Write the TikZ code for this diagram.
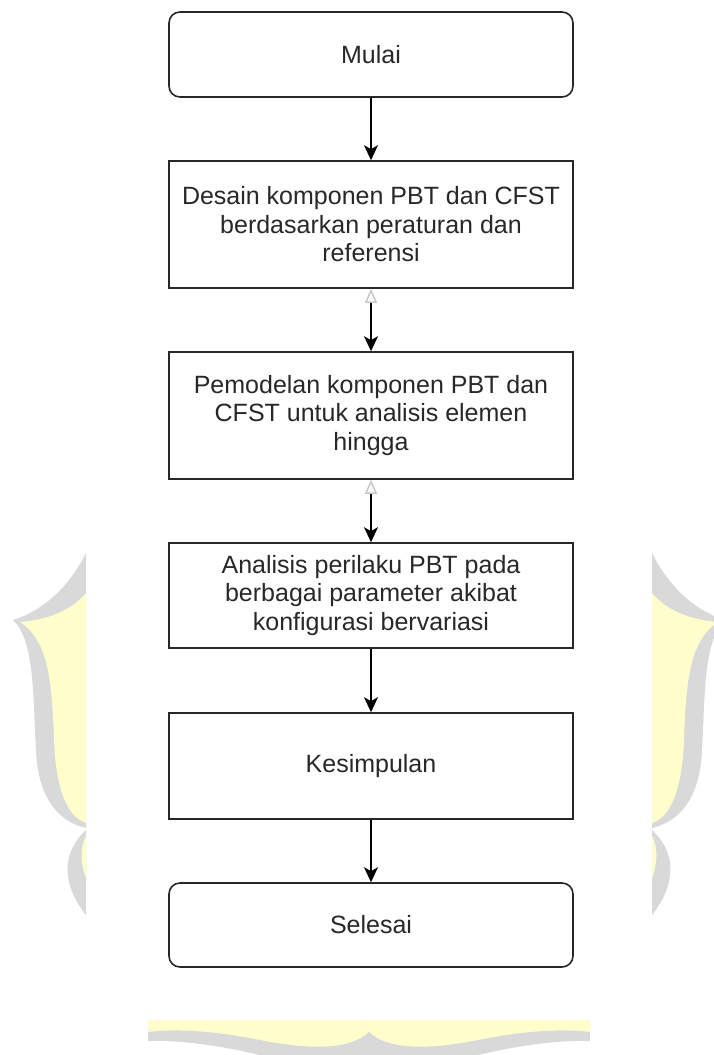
\documentclass[tikz,border=0pt]{standalone}
\usepackage{fontspec}
\setmainfont{Liberation Sans}
\usetikzlibrary{arrows.meta}
\definecolor{wmgray}{RGB}{217,217,217}
\definecolor{wmyellow}{RGB}{255,253,204}
\definecolor{ink}{RGB}{40,40,40}
\tikzset{
  procbox/.style={draw=ink, line width=1.6pt, fill=white, minimum width=404pt, align=center, text=ink, font=\fontsize{25}{28.5}\selectfont, inner sep=0pt},
  termbox/.style={procbox, rounded corners=11pt},
  flow/.style={draw=black, line width=1.5pt, -{Stealth[length=15pt,width=14pt,inset=4pt]}},
  ghostflow/.style={draw=black, line width=1.5pt, {Triangle[open,length=14pt,width=12pt,color=black!22]}-{Stealth[length=15pt,width=14pt,inset=4pt]}},
}
\begin{document}
\begin{tikzpicture}[x=1pt,y=-1pt]
\useasboundingbox (0,0) rectangle (714,1055);
\fill[white] (0,0) rectangle (714,1055);
% watermark, left side and mirrored right side
\foreach \s in {1,-1}{
\begin{scope}[xshift={(1-\s)*369pt}, xscale=\s]
\fill[wmgray] (86,553) .. controls (70,585) and (45,610) .. (13,620)
  .. controls (35,640) and (33,700) .. (36,750)
  .. controls (38,800) and (60,822) .. (86,828) -- cycle;
\fill[wmyellow] (86,593) .. controls (70,612) and (45,620) .. (20,622)
  .. controls (48,640) and (52,680) .. (54,740)
  .. controls (56,795) and (70,818) .. (86,823) -- cycle;
\fill[wmgray] (86,830) .. controls (70,845) and (66,862) .. (68,875)
  .. controls (69,890) and (78,905) .. (86,915) -- cycle;
\fill[wmyellow] (86,836) .. controls (80,848) and (80,862) .. (86,878) -- cycle;
\end{scope}
}
% watermark, bottom
\fill[wmyellow] (148,1020) -- (590,1020) -- (590,1032)
  .. controls (558,1028) and (518,1032) .. (478,1040)
  .. controls (428,1050) and (388,1050) .. (369,1032)
  .. controls (350,1050) and (310,1050) .. (260,1040)
  .. controls (220,1032) and (180,1028) .. (148,1032) -- cycle;
\fill[wmgray] (148,1032)
  .. controls (180,1028) and (220,1032) .. (260,1040)
  .. controls (310,1050) and (350,1050) .. (369,1032)
  .. controls (388,1050) and (428,1050) .. (478,1040)
  .. controls (518,1032) and (558,1028) .. (590,1032)
  -- (590,1041) .. controls (560,1040) and (520,1045) .. (478,1055)
  -- (260,1055) .. controls (218,1045) and (178,1040) .. (148,1041) -- cycle;
% flowchart
\node[termbox, minimum height=85pt] (mulai) at (371,54.5) {Mulai};
\node[procbox, minimum height=127pt] (desain) at (371,224.5) {Desain komponen PBT dan CFST\\berdasarkan peraturan dan\\referensi};
\node[procbox, minimum height=127pt] (model) at (371,415.5) {Pemodelan komponen PBT dan\\CFST untuk analisis elemen\\hingga};
\node[procbox, minimum height=105pt] (analisis) at (371,595.5) {Analisis perilaku PBT pada\\berbagai parameter akibat\\konfigurasi bervariasi};
\node[procbox, minimum height=106pt] (simpul) at (371,766) {Kesimpulan};
\node[termbox, minimum height=84pt] (selesai) at (371,925) {Selesai};
\draw[flow] (mulai) -- (desain);
\draw[ghostflow] (desain) -- (model);
\draw[ghostflow] (model) -- (analisis);
\draw[flow] (analisis) -- (simpul);
\draw[flow] (simpul) -- (selesai);
\end{tikzpicture}
\end{document}
